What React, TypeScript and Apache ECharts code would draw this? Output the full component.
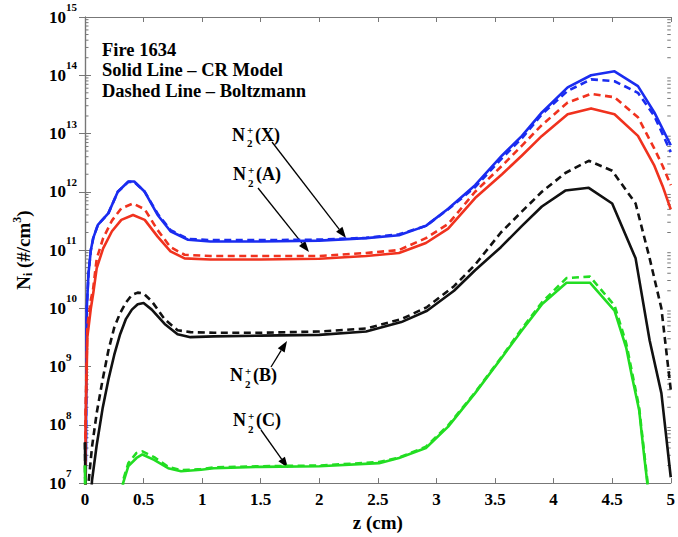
import React, { useEffect, useRef } from 'react';
import * as echarts from 'echarts';

// ---- data (z in cm, number densities in #/cm^3) ----
const zX = [0, 0.015, 0.03, 0.05, 0.07, 0.11, 0.2, 0.28, 0.37, 0.42, 0.51, 0.62, 0.73, 0.88, 1.07, 1.5, 2.0, 2.4, 2.68, 2.91, 3.1, 3.33, 3.56, 3.73, 3.9, 4.12, 4.32, 4.52, 4.72, 4.86, 5.0];
const nXcr = [1e5, 1e10, 4.0e10, 1e11, 1.6e11, 2.7e11, 4.3e11, 1e12, 1.5e12, 1.5e12, 1e12, 4.0e11, 2.1e11, 1.5e11, 1.4e11, 1.4e11, 1.45e11, 1.6e11, 1.8e11, 2.6e11, 5.1e11, 1.3e12, 4.2e12, 9.1e12, 2.3e13, 6.2e13, 1.0e14, 1.17e14, 6.5e13, 2.3e13, 6.3e12];
const nXbz = [1e5, 1e10, 4.0e10, 1e11, 1.6e11, 2.7e11, 4.3e11, 1e12, 1.48e12, 1.48e12, 1e12, 4.2e11, 2.2e11, 1.55e11, 1.48e11, 1.48e11, 1.51e11, 1.62e11, 1.86e11, 2.6e11, 5.0e11, 1.2e12, 3.8e12, 8.3e12, 2.14e13, 5.4e13, 8.5e13, 7.9e13, 5.0e13, 2.0e13, 4.8e12];

const zA = [0, 0.005, 0.02, 0.05, 0.07, 0.1, 0.155, 0.23, 0.31, 0.41, 0.51, 0.62, 0.73, 0.85, 1.07, 1.5, 2.0, 2.4, 2.68, 2.91, 3.1, 3.33, 3.56, 3.73, 3.9, 4.12, 4.32, 4.52, 4.72, 4.86, 4.93, 5.0];
const nAcr = [1e5, 1e8, 3.2e9, 1e10, 1.8e10, 4.9e10, 1.07e11, 2.1e11, 3.3e11, 4.0e11, 3.3e11, 1.7e11, 9.5e10, 7.2e10, 6.9e10, 6.9e10, 7.1e10, 7.9e10, 8.9e10, 1.32e11, 2.34e11, 7.8e11, 2.0e12, 4.2e12, 9.1e12, 2.14e13, 2.7e13, 2.14e13, 9.1e12, 2.8e12, 1.26e12, 5.0e11];
const nAbz = [1e5, 1.6e8, 5.0e9, 1.4e10, 2.2e10, 7.1e10, 1.6e11, 3.2e11, 5.2e11, 6.3e11, 5.0e11, 2.2e11, 1.12e11, 8.3e10, 7.9e10, 7.9e10, 7.9e10, 8.9e10, 1.0e11, 1.6e11, 2.8e11, 1.0e12, 2.8e12, 6.2e12, 1.4e13, 3.4e13, 4.8e13, 4.2e13, 1.9e13, 5.5e12, 2.8e12, 1.3e12];

const zB = [0, 0.01, 0.03, 0.06, 0.1, 0.15, 0.2, 0.25, 0.3, 0.35, 0.4, 0.45, 0.5, 0.57, 0.68, 0.79, 0.9, 1.1, 1.5, 2.0, 2.4, 2.7, 2.92, 3.15, 3.33, 3.55, 3.73, 3.9, 4.1, 4.3, 4.5, 4.7, 4.82, 4.92, 5.0];
const nBcr = [5.0e7, 1e5, 1e6, 1.12e7, 4.5e7, 1.9e8, 6.0e8, 1.6e9, 3.6e9, 6.6e9, 9.5e9, 1.17e10, 1.23e10, 9.5e9, 5.4e9, 3.6e9, 3.2e9, 3.3e9, 3.4e9, 3.5e9, 4.0e9, 5.8e9, 9.1e9, 2.0e10, 4.5e10, 1.12e11, 2.6e11, 5.6e11, 1.05e12, 1.17e12, 6.3e11, 7.2e10, 2.8e9, 3.5e8, 1.26e7];
const nBbz = [5.0e7, 1e5, 1.0e7, 4.2e7, 1.6e8, 5.9e8, 1.9e9, 4.7e9, 8.3e9, 1.26e10, 1.7e10, 1.86e10, 1.8e10, 1.32e10, 6.5e9, 4.2e9, 3.9e9, 3.8e9, 3.8e9, 4.0e9, 4.5e9, 6.5e9, 1.05e10, 2.4e10, 5.6e10, 2.0e11, 4.6e11, 1.0e12, 2.1e12, 3.4e12, 2.3e12, 6.3e11, 7.2e10, 1.0e10, 4.0e8];

const zC = [0, 0.01, 0.3, 0.325, 0.37, 0.44, 0.49, 0.59, 0.71, 0.82, 0.99, 1.1, 1.5, 2.0, 2.51, 2.68, 2.91, 3.1, 3.33, 3.56, 3.73, 3.9, 4.11, 4.31, 4.52, 4.62, 4.67, 4.73, 4.77, 4.8, 4.85];
const nCcr = [2.0e7, 1e5, 1e6, 1.0e7, 1.95e7, 2.7e7, 3.1e7, 2.5e7, 1.8e7, 1.6e7, 1.7e7, 1.8e7, 1.9e7, 1.95e7, 2.2e7, 2.7e7, 4.0e7, 9.3e7, 3.5e8, 1.45e9, 4.2e9, 1.17e10, 2.75e10, 2.75e10, 9.1e9, 2.1e9, 6.6e8, 1.8e8, 3.3e7, 1.0e7, 1e5];
const nCbz = [2.0e7, 1e5, 1e6, 1.12e7, 2.2e7, 3.3e7, 3.5e7, 2.8e7, 1.9e7, 1.66e7, 1.74e7, 1.86e7, 1.95e7, 2.0e7, 2.3e7, 2.75e7, 4.2e7, 9.8e7, 3.6e8, 1.5e9, 4.5e9, 1.26e10, 3.3e10, 3.5e10, 1.12e10, 2.5e9, 7.9e8, 2.0e8, 3.8e7, 1.12e7, 1e5];

const titleLines = ['Fire 1634', 'Solid Line \u2013 CR Model', 'Dashed Line \u2013 Boltzmann'];
const speciesLabels = ['(X)', '(A)', '(B)', '(C)'];

const FONT = '"Liberation Serif", "Times New Roman", serif';
const AXIS_COLOR = '#777';
const BLUE = '#1a2cf0';
const RED = '#f0321e';
const BLACK = '#111111';
const GREEN = '#22dd22';

function pairs(z: number[], v: number[]) {
  return z.map((zz, i) => [zz, v[i]]);
}

function lineSeries(name: string, data: number[][], color: string, dashed: boolean, z: number) {
  return {
    type: 'line',
    name,
    data,
    xAxisIndex: 0,
    yAxisIndex: 0,
    symbol: 'none',
    showSymbol: false,
    clip: true,
    silent: true,
    z,
    lineStyle: { color, width: 2.6, type: dashed ? [7, 4.5] : 'solid', cap: 'butt', join: 'round' },
  };
}

function arrow(x1: number, y1: number, x2: number, y2: number) {
  const ang = Math.atan2(y2 - y1, x2 - x1);
  const L = 11;
  const W = 4;
  const bx = x2 - L * Math.cos(ang);
  const by = y2 - L * Math.sin(ang);
  const px = -Math.sin(ang) * W;
  const py = Math.cos(ang) * W;
  return [
    { type: 'line', shape: { x1, y1, x2: bx, y2: by }, style: { stroke: '#000', lineWidth: 1.3 }, silent: true },
    { type: 'polygon', shape: { points: [[x2, y2], [bx + px, by + py], [bx - px, by - py]] }, style: { fill: '#000' }, silent: true },
  ];
}

function speciesLabel(ax: number, ay: number, tag: string) {
  const base = { fontFamily: FONT, fontWeight: 'bold', fill: '#000', align: 'left', verticalAlign: 'middle' };
  return [
    { type: 'text', x: ax, y: ay, style: { ...base, text: 'N', fontSize: 18 }, silent: true },
    { type: 'text', x: ax + 15, y: ay - 4.5, style: { ...base, text: '+', fontSize: 11 }, silent: true },
    { type: 'text', x: ax + 15, y: ay + 8.5, style: { ...base, text: '2', fontSize: 11 }, silent: true },
    { type: 'text', x: ax + 23, y: ay, style: { ...base, text: tag, fontSize: 18 }, silent: true },
  ];
}

export default function App() {
  const ref = useRef<HTMLDivElement>(null);

  useEffect(() => {
    if (!ref.current) return;
    const chart = echarts.init(ref.current, null, { renderer: 'svg' });

    const minorTicks: number[][] = [];
    for (let e = 7; e < 15; e++) {
      for (let m = 2; m <= 9; m++) minorTicks.push([0, m * Math.pow(10, e)]);
    }

    const axisLine = { show: true, lineStyle: { color: AXIS_COLOR, width: 1.2 } };

    const graphic: any[] = [];
    titleLines.forEach((t, i) => {
      graphic.push({
        type: 'text',
        x: 102,
        y: 49.5 + i * 20.5,
        silent: true,
        style: { text: t, fontFamily: FONT, fontWeight: 'bold', fontSize: 18.5, fill: '#000', align: 'left', verticalAlign: 'middle' },
      });
    });
    graphic.push(...speciesLabel(232, 134.5, speciesLabels[0]), ...arrow(272, 142, 346, 238));
    graphic.push(...speciesLabel(233, 174, speciesLabels[1]), ...arrow(258, 188, 309, 252));
    graphic.push(...speciesLabel(230, 375, speciesLabels[2]), ...arrow(271, 367, 287, 341));
    graphic.push(...speciesLabel(233, 420, speciesLabels[3]), ...arrow(261, 430, 288, 468));

    const option: any = {
      animation: false,
      backgroundColor: '#fff',
      grid: { left: 85, right: 2, top: 17, bottom: 50, containLabel: false },
      xAxis: [
        {
          type: 'value',
          position: 'bottom',
          min: 0,
          max: 5,
          interval: 0.5,
          name: 'z (cm)',
          nameLocation: 'middle',
          nameGap: 26,
          nameTextStyle: { fontFamily: FONT, fontWeight: 'bold', fontSize: 19, color: '#000' },
          axisLine,
          axisTick: { show: true, inside: true, length: 5, lineStyle: { color: AXIS_COLOR } },
          axisLabel: {
            show: true,
            margin: 8,
            fontFamily: FONT,
            fontWeight: 'bold',
            fontSize: 17,
            color: '#000',
            formatter: (v: number) => String(v),
          },
          splitLine: { show: false },
        },
        {
          type: 'value',
          position: 'top',
          min: 0,
          max: 5,
          interval: 0.5,
          axisLine,
          axisTick: { show: true, inside: true, length: 5, lineStyle: { color: AXIS_COLOR } },
          axisLabel: { show: false },
          splitLine: { show: false },
        },
      ],
      yAxis: [
        {
          type: 'log',
          logBase: 10,
          min: 1e7,
          max: 1e15,
          splitNumber: 8,
          position: 'left',
          name: 'N{sub|i} (#/cm{sup|3})',
          nameLocation: 'middle',
          nameGap: 50,
          nameRotate: 90,
          nameTextStyle: {
            fontFamily: FONT,
            fontWeight: 'bold',
            fontSize: 19,
            color: '#000',
            rich: {
              sub: { fontFamily: FONT, fontWeight: 'bold', fontSize: 12, color: '#000', padding: [10, 0, 0, 0] },
              sup: { fontFamily: FONT, fontWeight: 'bold', fontSize: 12, color: '#000', padding: [0, 0, 12, 0] },
            },
          },
          axisLine,
          axisTick: { show: true, inside: true, length: 6, lineStyle: { color: AXIS_COLOR } },
          axisLabel: {
            show: true,
            align: 'left',
            margin: 36,
            formatter: (v: number) => `{b|10}{s|${Math.round(Math.log10(v))}}`,
            rich: {
              b: { fontFamily: FONT, fontWeight: 'bold', fontSize: 17, color: '#000' },
              s: { fontFamily: FONT, fontWeight: 'bold', fontSize: 11, color: '#000', padding: [0, 0, 20, 0] },
            },
          },
          splitLine: { show: false },
        },
        {
          type: 'log',
          logBase: 10,
          min: 1e7,
          max: 1e15,
          splitNumber: 8,
          position: 'right',
          axisLine,
          axisTick: { show: true, inside: true, length: 6, lineStyle: { color: AXIS_COLOR } },
          axisLabel: { show: false },
          splitLine: { show: false },
        },
      ],
      series: [
        {
          type: 'custom',
          xAxisIndex: 0,
          yAxisIndex: 0,
          silent: true,
          clip: false,
          data: minorTicks,
          z: 1,
          renderItem: (_params: any, api: any) => {
            const v = api.value(1);
            const pl = api.coord([0, v]);
            const pr = api.coord([5, v]);
            return {
              type: 'group',
              children: [
                { type: 'line', shape: { x1: pl[0], y1: pl[1], x2: pl[0] + 3.5, y2: pl[1] }, style: { stroke: AXIS_COLOR, lineWidth: 1 } },
                { type: 'line', shape: { x1: pr[0], y1: pr[1], x2: pr[0] - 3.5, y2: pr[1] }, style: { stroke: AXIS_COLOR, lineWidth: 1 } },
              ],
            };
          },
        },
        lineSeries('X CR', pairs(zX, nXcr), BLUE, false, 2),
        lineSeries('X Boltzmann', pairs(zX, nXbz), BLUE, true, 3),
        lineSeries('A CR', pairs(zA, nAcr), RED, false, 4),
        lineSeries('A Boltzmann', pairs(zA, nAbz), RED, true, 5),
        lineSeries('B CR', pairs(zB, nBcr), BLACK, false, 6),
        lineSeries('B Boltzmann', pairs(zB, nBbz), BLACK, true, 7),
        lineSeries('C CR', pairs(zC, nCcr), GREEN, false, 8),
        lineSeries('C Boltzmann', pairs(zC, nCbz), GREEN, true, 9),
      ],
      graphic,
    };

    chart.setOption(option);
    return () => chart.dispose();
  }, []);

  return (
    <div
      ref={ref}
      style={{ position: 'fixed', left: 0, top: 0, width: 678, height: 537, background: '#fff' }}
    />
  );
}
